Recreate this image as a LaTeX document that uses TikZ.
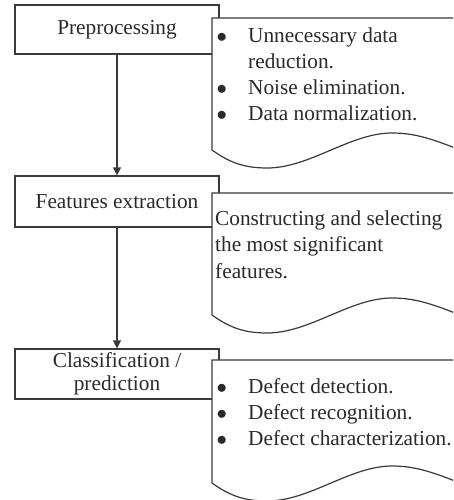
\documentclass[tikz,border=0pt]{standalone}
\usepackage{fontspec}
\setmainfont{Liberation Serif}
\usetikzlibrary{arrows.meta}
\definecolor{ln}{HTML}{3A3A3A}
\definecolor{tx}{HTML}{2A2A2A}
\tikzset{
  box/.style={draw=ln, line width=1.2pt, fill=white, inner sep=0pt, minimum width=204pt,
    text=tx, align=center, font=\fontsize{21.3}{23.5}\selectfont},
  docshape/.style={draw=ln, line width=1.2pt, fill=white},
  doctext/.style={anchor=base west, inner sep=0pt, text=tx},
  flow/.style={draw=ln, line width=1.2pt, -{Triangle[length=8pt,width=8pt]}}
}
\newcommand{\bul}{$\bullet$}
\newcommand{\docpath}[2]{% #1 top, #2 left-bottom y
  \path[docshape] (212,#1) -- (212,#2)
    .. controls (230,#2+13) and (245,#2+18) .. (267,#2+18)
    .. controls (310,#2+18) and (350,#2-17) .. (392,#2-17)
    .. controls (420,#2-17) and (440,#2-8) .. (480,#2+8)
    -- (480,#1) -- cycle;}
\begin{document}
\begin{tikzpicture}[x=1pt,y=-1pt]
\useasboundingbox (0,0) rectangle (453,500);
\clip (0,0) rectangle (453,500);
% process boxes
\node[box, minimum height=49pt] (b1) at (117,29.5) {Preprocessing};
\node[box, minimum height=51pt] (b2) at (117,201.5) {Features extraction};
\node[box, minimum height=50pt] (b3) at (117,374) {Classification /\\prediction};
\draw[flow] (b1.south) -- (b2.north);
\draw[flow] (b2.south) -- (b3.north);
% documents
\docpath{18}{150}
\docpath{193}{315}
\docpath{360}{483}
\node[doctext] (d1) at (216.5,43) {\fontsize{21.3}{25.7}\selectfont
  \begin{tabular}[t]{@{}p{31.5pt}@{}l@{}}
  \bul & Unnecessary data\\
       & reduction.\\
  \bul & Noise elimination.\\
  \bul & Data normalization.
  \end{tabular}};
\node[doctext] (d2) at (215,225) {\fontsize{21.3}{26.5}\selectfont
  \begin{tabular}[t]{@{}l@{}}
  Constructing and selecting\\
  the most significant\\
  features.
  \end{tabular}};
\node[doctext] (d3) at (216.5,393) {\fontsize{21.3}{26}\selectfont
  \begin{tabular}[t]{@{}p{31.5pt}@{}l@{}}
  \bul & Defect detection.\\
  \bul & Defect recognition.\\
  \bul & Defect characterization.
  \end{tabular}};
\end{tikzpicture}
\end{document}
